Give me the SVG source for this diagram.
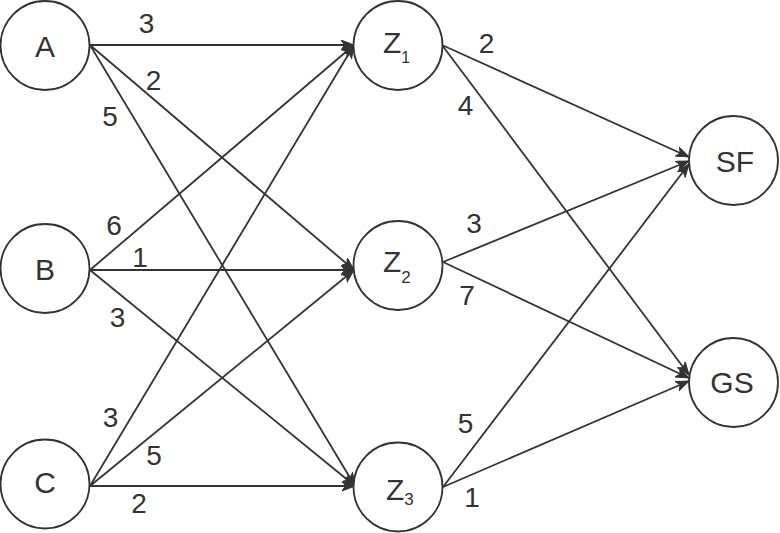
<svg xmlns="http://www.w3.org/2000/svg" width="780" height="533" viewBox="0 0 780 533">
<style>
.n{fill:#fff;stroke:#333;stroke-width:1.8}
.e{stroke:#333;stroke-width:1.8;fill:none;marker-end:url(#arr)}
text{font-family:"Liberation Sans",Arial,sans-serif;fill:#333}
.nl{font-size:30px;text-anchor:middle}
.zl{font-size:30px}
.el{font-size:28px;text-anchor:middle}
</style>
<defs>
<marker id="arr" markerUnits="userSpaceOnUse" markerWidth="14" markerHeight="12" refX="13" refY="5" orient="auto">
<path d="M0,0 L13,5 L0,10 L3.5,5 Z" fill="#333" stroke="#333" stroke-width="1"/>
</marker>
</defs>
<rect width="780" height="533" fill="#fff"/>
<g id="connectors">
<line class="e" x1="90" y1="45" x2="354" y2="45"/>
<line class="e" x1="90" y1="45" x2="354" y2="270"/>
<line class="e" x1="90" y1="45" x2="355" y2="486"/>
<line class="e" x1="90" y1="270" x2="354" y2="45"/>
<line class="e" x1="90" y1="270" x2="354" y2="270"/>
<line class="e" x1="90" y1="270" x2="355" y2="486"/>
<line class="e" x1="90" y1="486" x2="354" y2="45"/>
<line class="e" x1="90" y1="486" x2="354" y2="270"/>
<line class="e" x1="90" y1="486" x2="355" y2="486"/>
<line class="e" x1="442" y1="45" x2="689" y2="157"/>
<line class="e" x1="442" y1="45" x2="689" y2="375"/>
<line class="e" x1="443" y1="262" x2="689" y2="161"/>
<line class="e" x1="443" y1="262" x2="689" y2="378"/>
<line class="e" x1="443" y1="487" x2="689" y2="164"/>
<line class="e" x1="443" y1="487" x2="689" y2="381"/>
</g>
<g id="edge-labels">
<text class="el" x="146.5" y="33">3</text>
<text class="el" x="153.5" y="90">2</text>
<text class="el" x="110" y="126">5</text>
<text class="el" x="114" y="235">6</text>
<text class="el" x="140" y="267">1</text>
<text class="el" x="117.5" y="327">3</text>
<text class="el" x="110.5" y="427">3</text>
<text class="el" x="154" y="465">5</text>
<text class="el" x="139" y="513">2</text>
<text class="el" x="486.5" y="53">2</text>
<text class="el" x="465.5" y="115">4</text>
<text class="el" x="474" y="233">3</text>
<text class="el" x="467" y="305">7</text>
<text class="el" x="465.5" y="433">5</text>
<text class="el" x="472" y="507">1</text>
</g>
<g id="node-A"><circle class="n" cx="45" cy="45.5" r="44.5"/><text class="nl" x="45" y="57">A</text></g>
<g id="node-B"><circle class="n" cx="45" cy="268.5" r="44.5"/><text class="nl" x="45" y="280">B</text></g>
<g id="node-C"><circle class="n" cx="45" cy="484" r="44.5"/><text class="nl" x="45" y="493">C</text></g>
<g id="node-Z1"><circle class="n" cx="398" cy="45.5" r="44.5"/><text class="zl" x="383" y="53">Z<tspan font-size="16" dy="10">1</tspan></text></g>
<g id="node-Z2"><circle class="n" cx="398" cy="265.5" r="44.5"/><text class="zl" x="383" y="272">Z<tspan font-size="17" dy="11">2</tspan></text></g>
<g id="node-Z3"><circle class="n" cx="398" cy="487" r="44.5"/><text class="zl" x="386" y="500">Z<tspan font-size="17" dy="5">3</tspan></text></g>
<g id="node-SF"><circle class="n" cx="733.5" cy="160.5" r="44.5"/><text class="nl" x="735" y="172">SF</text></g>
<g id="node-GS"><circle class="n" cx="733.5" cy="382.5" r="44.5"/><text class="nl" x="732" y="393">GS</text></g>
</svg>
